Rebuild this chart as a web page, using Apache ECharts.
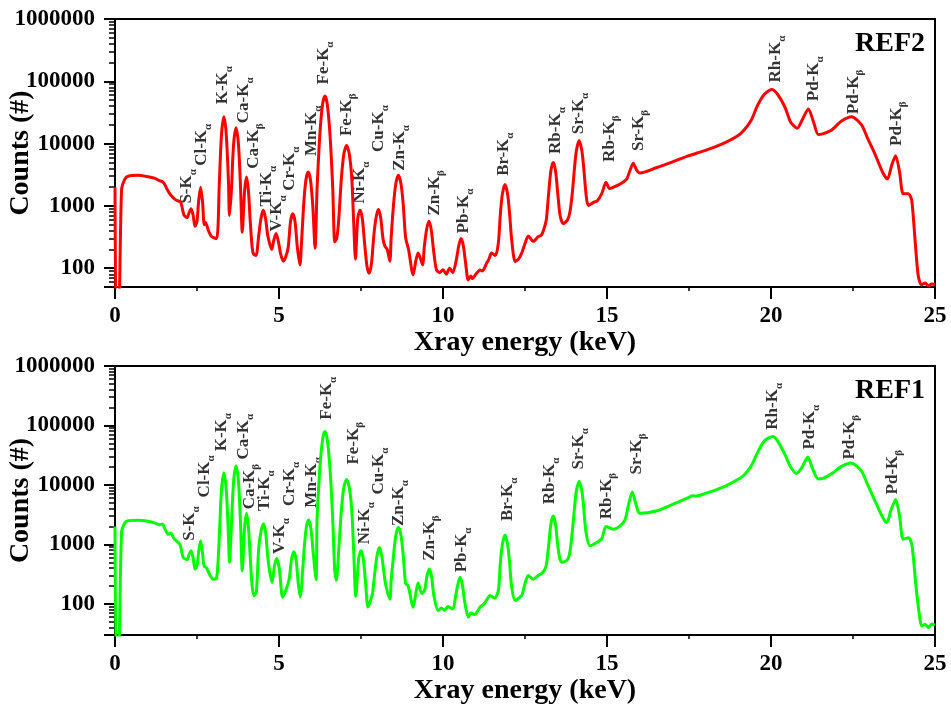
<!DOCTYPE html>
<html><head><meta charset="utf-8">
<script src="https://cdn.jsdelivr.net/npm/echarts@6/dist/echarts.min.js"></script>
<style>html,body{margin:0;padding:0;background:#fff}#c{width:951px;height:709px}</style>
</head><body><div id="c"></div><script>
// ---- data ----
const ref2Spectrum = [
[0,2000],[0.04,10],[0.1,10],[0.2,1800],[0.3,2700],[0.4,3000],[0.7,3100],[1.0,2950],[1.2,2800],[1.35,2550],[1.45,2450],[1.5,2300],[1.6,1800],[1.7,1500],[1.85,1250],[2.0,1150],[2.1,720],
[2.2,650],[2.26,780],[2.32,900],[2.38,720],[2.44,470],
[2.5,560],[2.55,1200],[2.61,2000],[2.67,1150],[2.72,500],[2.76,540],[2.85,400],[2.95,320],[3.1,300],
[3.18,2250],[3.22,7600],[3.26,17000],[3.32,27000],[3.38,17000],[3.42,7600],[3.46,2400],[3.49,700],
[3.55,1800],[3.59,5700],[3.63,11900],[3.69,18000],[3.75,11900],[3.79,5700],[3.83,1800],[3.88,380],
[3.95,1700],[4.01,2900],[4.07,1700],[4.12,600],[4.18,220],[4.22,170],[4.3,160],
[4.38,330],[4.45,630],[4.52,850],[4.59,630],[4.66,330],[4.78,200],
[4.84,280],[4.91,360],[4.98,270],[5.05,170],[5.13,130],[5.2,150],
[5.28,215],[5.35,555],[5.42,750],[5.49,555],[5.56,215],[5.64,113],
[5.68,220],[5.75,1000],[5.82,2600],[5.89,3500],[5.96,2600],[6.03,1000],[6.1,210],
[6.16,1840],[6.22,8400],[6.28,24500],[6.34,46500],[6.4,58000],[6.46,46500],[6.52,24500],[6.58,8400],[6.64,1840],[6.7,265],
[6.76,300],[6.82,590],[6.9,2700],[6.98,7000],[7.06,9300],[7.14,7000],[7.22,2700],[7.28,500],[7.33,140],
[7.4,630],[7.47,850],[7.54,630],[7.61,250],[7.68,110],[7.75,83],
[7.82,120],[7.89,330],[7.96,650],[8.03,880],[8.1,650],[8.17,300],[8.23,225],[8.3,200],[8.38,130],
[8.42,310],[8.49,1020],[8.56,2260],[8.64,3100],[8.72,2260],[8.79,1020],[8.86,310],[8.95,200],[9.09,78],
[9.17,130],[9.24,175],[9.3,150],[9.38,113],
[9.43,220],[9.5,420],[9.57,570],[9.64,420],[9.71,200],[9.8,94],[9.9,85],[10.0,95],[10.1,80],[10.2,100],[10.3,85],
[10.41,140],[10.48,230],[10.55,300],[10.62,230],[10.69,120],[10.77,65],[10.85,75],[10.9,68],[11.0,80],[11.13,94],[11.2,90],[11.33,120],[11.4,140],[11.48,175],[11.6,160],
[11.69,260],[11.75,760],[11.81,1540],[11.89,2200],[11.97,1540],[12.03,760],[12.09,300],[12.2,128],[12.3,140],[12.4,175],[12.5,250],[12.6,330],[12.75,270],[12.9,320],[13.0,340],[13.08,430],
[13.15,600],[13.22,1570],[13.29,3700],[13.36,5000],[13.43,3700],[13.5,1570],[13.57,700],[13.67,520],[13.8,600],[13.87,800],
[13.94,1570],[14.02,4700],[14.07,7900],[14.15,11200],[14.23,7900],[14.28,4700],[14.36,1570],[14.43,1020],
[14.6,1150],[14.7,1200],[14.84,1570],[14.97,2400],[15.08,1900],[15.2,2000],[15.4,2250],[15.6,2700],[15.7,3700],[15.8,4850],[15.9,3800],[16.0,3380],
[16.5,4100],[17.0,5100],[17.5,6400],[18.0,7800],[18.5,9800],[19.0,13500],[19.2,17000],[19.4,24000],[19.6,42000],[19.8,62000],[20.02,74000],[20.2,62000],[20.43,38000],[20.6,22000],[20.8,17700],[20.95,24000],[21.14,36000],[21.3,22000],[21.44,14000],[21.6,14500],[21.85,16500],[22.15,23000],[22.46,27000],[22.76,20000],[22.95,12000],[23.17,6800],[23.4,3500],[23.55,2700],[23.68,4500],[23.8,6400],[23.92,3500],[24.03,1570],[24.19,1570],[24.29,1230],[24.4,250],[24.49,75],[24.59,54],[24.7,58],[24.8,52],[24.9,56],[25,55]
];
const ref1Spectrum = [
[0,2000],[0.04,10],[0.1,10],[0.2,1600],[0.3,2300],[0.4,2500],[0.7,2550],[1.0,2450],[1.2,2300],[1.37,2150],[1.45,2200],[1.5,1950],[1.62,1480],[1.7,1550],[1.8,1250],[1.98,1000],[2.08,600],
[2.2,560],[2.26,680],[2.32,780],[2.38,600],[2.44,385],
[2.5,440],[2.55,750],[2.61,1150],[2.67,700],[2.72,420],[2.76,420],[2.9,300],[3.0,260],[3.1,270],
[3.18,1330],[3.22,4500],[3.26,10000],[3.32,16000],[3.38,10000],[3.42,4500],[3.46,1330],[3.49,500],
[3.55,2100],[3.59,6700],[3.63,13900],[3.69,21000],[3.75,13900],[3.79,6700],[3.83,2100],[3.88,360],
[3.95,1900],[4.01,3300],[4.07,1900],[4.12,650],[4.18,200],[4.24,138],[4.31,160],
[4.38,850],[4.45,1630],[4.52,2200],[4.59,1630],[4.66,600],[4.72,340],[4.79,230],
[4.86,430],[4.93,580],[5.0,420],[5.06,200],[5.1,130],[5.2,165],
[5.31,260],[5.38,555],[5.45,750],[5.52,555],[5.59,215],[5.65,130],
[5.69,200],[5.76,750],[5.83,1900],[5.9,2570],[5.97,1900],[6.04,750],[6.13,255],
[6.16,2500],[6.22,11400],[6.28,33000],[6.34,63000],[6.4,79000],[6.46,63000],[6.52,33000],[6.58,11400],[6.64,2500],[6.7,360],[6.75,250],
[6.82,780],[6.9,3600],[6.98,9300],[7.06,12300],[7.14,9300],[7.22,3600],[7.28,700],[7.34,135],
[7.43,580],[7.5,780],[7.57,580],[7.64,230],[7.71,88],
[7.78,110],[7.85,150],[7.92,330],[7.99,660],[8.06,890],[8.13,660],[8.2,330],[8.26,200],[8.38,120],
[8.42,250],[8.49,640],[8.56,1400],[8.64,1920],[8.72,1400],[8.79,640],[8.86,220],[8.94,200],[9.09,88],
[9.17,150],[9.24,225],[9.35,150],
[9.44,170],[9.51,290],[9.58,385],[9.65,290],[9.72,140],[9.85,77],[9.95,85],[10.05,78],[10.15,90],[10.3,82],
[10.38,130],[10.45,210],[10.52,280],[10.59,210],[10.66,110],[10.77,60],[10.85,70],[10.97,66],[11.05,75],[11.13,88],[11.25,100],[11.35,120],[11.43,138],[11.58,125],
[11.69,170],[11.75,500],[11.81,1000],[11.89,1440],[11.97,1000],[12.03,500],[12.09,200],[12.2,114],[12.4,140],[12.5,220],[12.6,300],[12.75,260],[12.9,300],[13.05,340],
[13.15,450],[13.22,950],[13.29,2200],[13.36,3000],[13.43,2200],[13.5,950],[13.57,550],[13.64,500],[13.8,560],[13.87,750],
[13.94,1600],[14.02,4800],[14.07,8100],[14.15,11500],[14.23,8100],[14.28,4800],[14.36,1600],[14.48,950],
[14.65,1050],[14.84,1250],[14.97,2000],[15.2,1800],[15.4,2050],[15.55,2600],[15.65,4500],[15.77,7600],[15.87,5000],[15.95,3600],[16.0,3330],
[16.5,3640],[17.0,4700],[17.48,6100],[17.6,6600],[17.7,6500],[18.0,7200],[18.5,9000],[19.0,12500],[19.2,15000],[19.4,21000],[19.6,36000],[19.8,55000],[20.05,65000],[20.2,55000],[20.43,32000],[20.6,20000],[20.78,15500],[20.95,20000],[21.12,29500],[21.28,18000],[21.44,12600],[21.6,13000],[21.85,15500],[22.15,20500],[22.44,23400],[22.76,17000],[22.95,10000],[23.17,5400],[23.4,2900],[23.53,2330],[23.66,3800],[23.8,5700],[23.92,3000],[24.03,1220],[24.2,1300],[24.3,950],[24.42,200],[24.52,68],[24.59,43],[24.7,45],[24.8,40],[24.9,46],[25,44]
];
// peak annotations: text, subscript, [energy, counts at label foot]
const peakNames = ['S-K','Cl-K','K-K','Ca-K','Ca-K','Ti-K','V-K','Cr-K','Mn-K','Fe-K','Fe-K','Ni-K','Cu-K','Zn-K','Zn-K','Pb-K','Br-K','Rb-K','Sr-K','Rb-K','Sr-K','Rh-K','Pd-K','Pd-K','Pd-K'];
const peakSubs  = ['α','α','α','α','β','α','α','α','α','α','β','α','α','α','β','α','α','α','α','β','β','α','α','β','β'];
const ref2LabelAt = [[2.195,1090],[2.64,4400],[3.28,42800],[3.91,21300],[4.22,3940],[4.625,975],[4.93,390],[5.335,1750],[6.0,6300],[6.35,89000],[7.065,13200],[7.47,1090],[8.03,7350],[8.69,3660],[9.756,700],[10.62,361],[11.84,3040],[13.445,6820],[14.125,14200],[15.09,5090],[15.95,7620],[20.15,96000],[21.29,47900],[22.51,29700],[23.83,9170]];
const ref1LabelAt = [[2.287,1150],[2.72,6180],[3.25,36800],[3.91,26700],[4.095,3890],[4.57,3640],[5.01,687],[5.315,4420],[6.0,4150],[6.455,125000],[7.265,22000],[7.62,1010],[8.03,6930],[8.64,2040],[9.6,530],[10.57,339],[11.96,2480],[13.26,4720],[14.125,18200],[14.99,2650],[15.905,15000],[20.05,84900],[21.19,39300],[22.41,26700],[23.71,6930]];
const panelNames = ['REF2','REF1'];
const xTitle = 'Xray energy (keV)';
const yTitle = 'Counts (#)';

// ---- chart ----
const FF = '"Liberation Serif","Times New Roman",serif';
const chart = echarts.init(document.getElementById('c'), null, {renderer:'canvas'});
function isDecade(v){const l=Math.log10(v);return Math.abs(l-Math.round(l))<1e-6 && v>=100;}
function xAx(gi){return {type:'value',gridIndex:gi,min:0,max:25,interval:5,
  axisLine:{lineStyle:{color:'#000',width:2}},
  axisTick:{length:12,lineStyle:{color:'#000',width:2}},
  minorTick:{show:true,splitNumber:2,length:4,lineStyle:{color:'#000',width:1.5}},
  splitLine:{show:false},
  axisLabel:{fontFamily:FF,fontWeight:'bold',fontSize:23,color:'#000',margin:18},
  name:xTitle,nameLocation:'middle',nameGap:40,
  nameTextStyle:{fontFamily:FF,fontWeight:'bold',fontSize:28,color:'#000'}};}
function yAx(gi,mn){return {type:'log',logBase:10,gridIndex:gi,min:mn,max:1000000,
  axisLine:{lineStyle:{color:'#000',width:2}},
  axisTick:{length:11,lineStyle:{color:'#000',width:2}},
  minorTick:{show:true,splitNumber:9,length:6,lineStyle:{color:'#000',width:1.5}},
  splitLine:{show:false},
  axisLabel:{fontFamily:FF,fontWeight:'bold',fontSize:23,color:'#000',margin:20,
    formatter:v=>isDecade(v)?String(Math.round(v)):''},
  name:yTitle,nameLocation:'middle',nameGap:80,nameRotate:90,nameMoveOverlap:false,
  nameTextStyle:{fontFamily:FF,fontWeight:'bold',fontSize:28,color:'#000'}};}
function labelSeries(xi,pts){return {type:'scatter',xAxisIndex:xi,yAxisIndex:xi,symbolSize:0,silent:true,
  data:pts,
  label:{show:true,position:[0,0],rotate:90,align:'left',verticalAlign:'middle',
    formatter:p=>'{m|'+peakNames[p.dataIndex]+'}{s|'+peakSubs[p.dataIndex]+'}',
    rich:{m:{fontFamily:FF,fontWeight:'bold',fontSize:17,color:'#000',lineHeight:24,verticalAlign:'middle'},
          s:{fontFamily:FF,fontWeight:'bold',fontSize:11,color:'#000',lineHeight:24,verticalAlign:'bottom'}}}};}
const option = {
  animation:false,
  backgroundColor:'#fff',
  title:[
    {text:panelNames[0],right:26,top:30,padding:0,textStyle:{fontFamily:FF,fontWeight:'bold',fontSize:28,color:'#000'}},
    {text:panelNames[1],right:26,top:377,padding:0,textStyle:{fontFamily:FF,fontWeight:'bold',fontSize:28,color:'#000'}}
  ],
  grid:[
    {left:115,right:16,top:19,height:268,outerBoundsMode:'none',containLabel:false,show:true,borderColor:'#000',borderWidth:2,backgroundColor:'transparent'},
    {left:115,right:16,top:366,height:269,outerBoundsMode:'none',containLabel:false,show:true,borderColor:'#000',borderWidth:2,backgroundColor:'transparent'}
  ],
  xAxis:[xAx(0),xAx(1)],
  yAxis:[yAx(0,50),yAx(1,30)],
  series:[
    {type:'line',xAxisIndex:0,yAxisIndex:0,data:ref2Spectrum,showSymbol:false,smooth:0.25,
     lineStyle:{color:'#ff0000',width:3},clip:true},
    labelSeries(0,ref2LabelAt),
    {type:'line',xAxisIndex:1,yAxisIndex:1,data:ref1Spectrum,showSymbol:false,smooth:0.25,
     lineStyle:{color:'#00ff00',width:3},clip:true},
    labelSeries(1,ref1LabelAt)
  ]
};
chart.setOption(option);
</script></body></html>
